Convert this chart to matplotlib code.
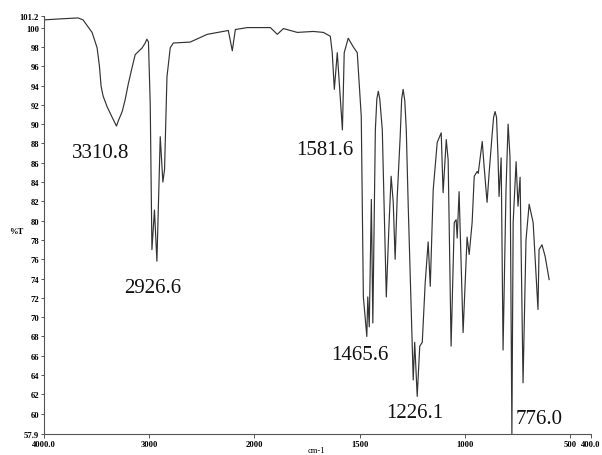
import numpy as np
import matplotlib
matplotlib.use("Agg")
import matplotlib.pyplot as plt

# IR spectrum: wavenumber (cm-1) and transmittance (%T)
wavenumber = [
    4000, 3848, 3676, 3629, 3543, 3495, 3473, 3457, 3438, 3400,
    3352, 3310.8, 3295, 3257, 3229, 3200, 3162, 3133, 3105, 3067,
    3038, 3022, 3007, 2990, 2974, 2950, 2926.6,
    2895, 2870, 2854, 2831, 2800, 2771, 2610, 2448, 2295, 2248,
    2210, 2181, 2067, 1924, 1891, 1862, 1796, 1720, 1672, 1639,
    1630, 1620, 1606, 1581.6, 1573, 1554, 1530, 1511, 1501, 1492,
    1482, 1465.6, 1461, 1454, 1444, 1437, 1425, 1418, 1411, 1404,
    1392, 1373, 1361, 1350, 1340, 1331, 1321, 1307, 1300, 1293,
    1285, 1278, 1269, 1245,
    1238, 1226.1, 1214, 1202, 1188, 1174, 1164, 1150, 1131, 1112,
    1103, 1088, 1079, 1065, 1050, 1041, 1036, 1027, 1008, 989,
    979, 965, 955, 941, 936, 917, 908, 894, 884, 870,
    863, 856, 849, 842, 837, 827, 818, 804, 794, 785, 776.0, 770,
    756, 747, 737, 723, 709, 694, 675, 661, 652, 647,
    633, 618, 599,
]
transmittance = [
    100.8, 100.9, 101.0, 100.8, 99.5, 97.9, 96.0, 93.9, 92.9, 91.8,
    90.7, 89.8, 90.3, 91.3, 92.5, 94.1, 95.9, 97.2, 97.5, 97.9,
    98.4, 98.8, 98.5, 92.0, 77.0, 81.1, 75.8,
    88.7, 84.0, 85.3, 94.9, 97.9, 98.4, 98.5, 99.3, 99.6, 99.7,
    97.6, 99.8, 100.0, 100.0, 99.3, 99.9, 99.5, 99.6, 99.5, 99.1,
    97.4, 93.6, 97.4, 89.4, 97.4, 98.9, 98.0, 97.4, 93.9, 90.8,
    72.1, 68.0, 72.1, 69.0, 82.2, 69.4, 89.4, 92.6, 93.4, 92.6,
    89.4, 72.1, 79.1, 84.6, 81.9, 76.0, 82.5, 88.7, 92.6, 93.6,
    92.4, 89.4, 81.7, 63.5,
    67.4, 61.8, 67.0, 67.4, 73.6, 77.8, 73.2, 83.2, 88.1, 89.1,
    82.9, 88.4, 86.3, 67.0, 79.8, 80.1, 78.2, 83.0, 68.4, 78.3,
    76.5, 79.8, 84.6, 85.1, 84.9, 88.2, 85.6, 81.9, 85.0, 88.9,
    90.7, 91.3, 90.7, 86.6, 82.5, 86.5, 66.6, 83.2, 90.0, 86.6, 57.9, 79.8,
    86.1, 81.5, 84.5, 63.2, 78.0, 81.7, 79.8, 74.2, 70.8, 77.0,
    77.5, 76.3, 73.9,
]

# Labelled absorption bands
peak_labels = [3310.8, 2926.6, 1581.6, 1465.6, 1226.1, 776.0]
peak_values = [89.8, 75.8, 89.4, 68.0, 61.8, 57.9]
peak_offsets = [(-11.5, -19.4), (-3.4, -18.7), (-13.0, -14.4),
                (-4.8, -13.0), (-2.0, -11.5), (19.4, 10.8)]

x_ticks = [4000, 3000, 2000, 1500, 1000, 500, 400]
x_tick_labels = ["4000.0", "3000", "2000", "1500", "1000", "500", "400.0"]
y_ticks = [57.9] + list(range(60, 101, 2)) + [101.2]
y_tick_labels = ["57.9"] + [str(v) for v in range(60, 101, 2)] + ["101.2"]


# Abscissa is compressed by a factor of two above 2000 cm-1
def forward(w):
    w = np.asarray(w, dtype=float)
    return np.where(w > 2000, 2000 + (w - 2000) / 2.0, w)


def inverse(u):
    u = np.asarray(u, dtype=float)
    return np.where(u > 2000, 2000 + (u - 2000) * 2.0, u)


fig = plt.figure(figsize=(6.02, 4.56), dpi=100)
ax = fig.add_axes([44 / 602, 1 - 435 / 456, 547 / 602, 418 / 456])

ax.plot(wavenumber, transmittance, color="#333333", lw=0.85)

ax.set_xscale("function", functions=(forward, inverse))
ax.set_xlim(4000, 400)
ax.set_ylim(57.9, 101.2)

tick_font = dict(family="Liberation Serif", weight="bold", size=6.2)
ax.set_xticks(x_ticks)
ax.set_xticklabels(x_tick_labels, **tick_font)
ax.set_yticks(y_ticks)
ax.set_yticklabels(y_tick_labels, **tick_font)
ax.xaxis.set_minor_locator(matplotlib.ticker.NullLocator())
ax.tick_params(axis="x", direction="out", length=3, width=0.7, pad=1.5, color="#555555")
ax.tick_params(axis="y", direction="out", length=2.5, width=0.7, pad=1, color="#555555")

for side in ("top", "right"):
    ax.spines[side].set_visible(False)
for side in ("left", "bottom"):
    ax.spines[side].set_color("#555555")
    ax.spines[side].set_linewidth(0.8)

for w, t, (dx, dy) in zip(peak_labels, peak_values, peak_offsets):
    ax.annotate(f"{w:.1f}", xy=(w, t), xytext=(dx, dy), textcoords="offset points",
                ha="center", va="center", family="Liberation Serif", size=15,
                color="#111111", annotation_clip=False)

fig.text(16 / 602, 1 - 232 / 456, "%T", ha="center", va="center",
         family="Liberation Serif", weight="bold", size=6.2)
fig.text(316 / 602, 1 - 451 / 456, "cm-1", ha="center", va="center",
         family="Liberation Serif", size=6.2)

fig.savefig("out.png", dpi=100)
